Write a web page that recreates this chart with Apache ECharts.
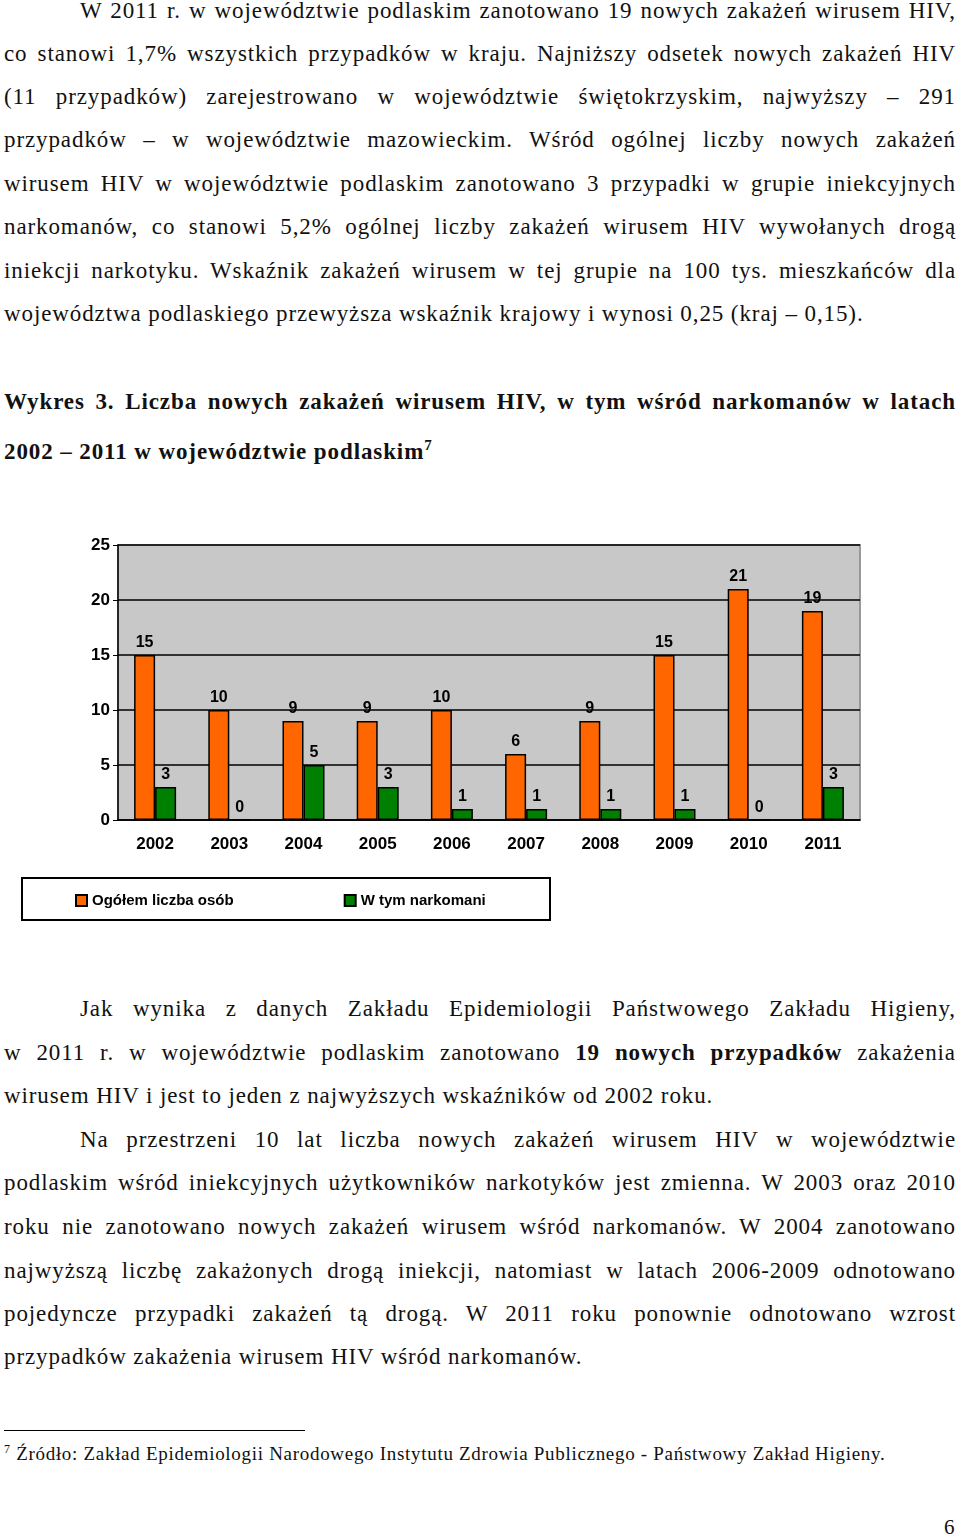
<!DOCTYPE html>
<html><head><meta charset="utf-8">
<script src="https://cdn.jsdelivr.net/npm/echarts@6/dist/echarts.min.js"></script>
<style>
body{margin:0;background:#fff;}
#page{position:relative;width:960px;height:1537px;font-family:"Liberation Serif","Times New Roman",serif;font-size:23px;letter-spacing:0.9px;color:#111;}
.ln{position:absolute;left:4px;width:952px;line-height:26px;white-space:nowrap;}
.j{text-align:justify;text-align-last:justify;white-space:normal;}
.b{font-weight:bold;}
#chart{position:absolute;left:0;top:520px;width:960px;height:420px;letter-spacing:0;}
</style></head>
<body><div id="page"><div id="chart"></div></div>
<script>
// page text, line by line: [y centre, indent, justified, bold, html]
var textLines = [
 [12,76,1,0,'W 2011 r. w województwie podlaskim zanotowano 19 nowych zakażeń wirusem HIV,'],
 [55,0,1,0,'co stanowi 1,7% wszystkich przypadków w kraju. Najniższy odsetek nowych zakażeń HIV'],
 [98,0,1,0,'(11 przypadków) zarejestrowano w województwie świętokrzyskim, najwyższy – 291'],
 [141,0,1,0,'przypadków – w województwie mazowieckim. Wśród ogólnej liczby nowych zakażeń'],
 [185,0,1,0,'wirusem HIV w województwie podlaskim zanotowano 3 przypadki w grupie iniekcyjnych'],
 [228,0,1,0,'narkomanów, co stanowi 5,2% ogólnej liczby zakażeń wirusem HIV wywołanych drogą'],
 [272,0,1,0,'iniekcji narkotyku. Wskaźnik zakażeń wirusem w tej grupie na 100 tys. mieszkańców dla'],
 [315,0,0,0,'województwa podlaskiego przewyższa wskaźnik krajowy i wynosi 0,25 (kraj – 0,15).'],
 [403,0,1,1,'Wykres 3. Liczba nowych zakażeń wirusem HIV, w tym wśród narkomanów w latach'],
 [446,0,0,1,'2002 – 2011 w województwie podlaskim<sup style="font-size:15px">7</sup>'],
 [1010,76,1,0,'Jak wynika z danych Zakładu Epidemiologii Państwowego Zakładu Higieny,'],
 [1054,0,1,0,'w 2011 r. w województwie podlaskim zanotowano <b>19 nowych przypadków</b> zakażenia'],
 [1097,0,0,0,'wirusem HIV i jest to jeden z najwyższych wskaźników od 2002 roku.'],
 [1141,76,1,0,'Na przestrzeni 10 lat liczba nowych zakażeń wirusem HIV w województwie'],
 [1184,0,1,0,'podlaskim wśród iniekcyjnych użytkowników narkotyków jest zmienna. W 2003 oraz 2010'],
 [1228,0,1,0,'roku nie zanotowano nowych zakażeń wirusem wśród narkomanów. W 2004 zanotowano'],
 [1272,0,1,0,'najwyższą liczbę zakażonych drogą iniekcji, natomiast w latach 2006-2009 odnotowano'],
 [1315,0,1,0,'pojedyncze przypadki zakażeń tą drogą. W 2011 roku ponownie odnotowano wzrost'],
 [1358,0,0,0,'przypadków zakażenia wirusem HIV wśród narkomanów.']
];
var years = ['2002','2003','2004','2005','2006','2007','2008','2009','2010','2011'];
var ogolem = [15,10,9,9,10,6,9,15,21,19];
var narkomani = [3,0,5,3,1,1,1,1,0,3];
var yTicks = [0,5,10,15,20,25];

var page = document.getElementById('page');
textLines.forEach(function(l){
	var d = document.createElement('div');
	d.className = 'ln' + (l[2] ? ' j' : '') + (l[3] ? ' b' : '');
	d.style.top = (l[0]-14) + 'px';
	d.style.left = (4+l[1]) + 'px';
	d.style.width = (952-l[1]) + 'px';
	d.innerHTML = l[4];
	page.appendChild(d);
});
var extra = '<div style="position:absolute;left:4px;top:1430px;width:301px;border-top:1px solid #000"></div>'+
	'<div style="position:absolute;left:4px;top:1442px;font-size:19px;letter-spacing:0.7px;white-space:nowrap"><sup style="font-size:12px">7</sup> Źródło: Zakład Epidemiologii Narodowego Instytutu Zdrowia Publicznego - Państwowy Zakład Higieny.</div>'+
	'<div style="position:absolute;left:944px;top:1515px;font-size:21px">6</div>';
page.insertAdjacentHTML('beforeend', extra);

var lbl = {show:true,position:'top',distance:4,color:'#000',fontFamily:'Liberation Sans',fontWeight:'bold',fontSize:16};
var chart = echarts.init(document.getElementById('chart'));
chart.setOption({
	animation:false,
	grid:{left:118,right:100,top:25,bottom:120,show:true,backgroundColor:'#c8c8c8',borderColor:'#999',borderWidth:2},
	legend:{left:70,top:368,itemGap:110,itemWidth:11,itemHeight:11,
		textStyle:{fontFamily:'Liberation Sans',fontWeight:'bold',fontSize:15,color:'#000'},
		data:[{name:'Ogółem liczba osób',icon:'rect'},{name:'W tym narkomani',icon:'rect'}]},
	graphic:[{type:'rect',shape:{x:22,y:358,width:528,height:42},style:{fill:'none',stroke:'#000',lineWidth:2}}],
	xAxis:{type:'category',data:years,
		axisLine:{lineStyle:{color:'#000',width:1.5}},axisTick:{lineStyle:{color:'#000'}},
		axisLabel:{color:'#000',fontFamily:'Liberation Sans',fontWeight:'bold',fontSize:17,margin:16}},
	yAxis:{type:'value',min:0,max:25,interval:5,
		axisLine:{show:true,lineStyle:{color:'#000',width:1.5}},axisTick:{show:true,lineStyle:{color:'#000'}},
		splitLine:{lineStyle:{color:'#000',width:1.5}},
		axisLabel:{color:'#000',fontFamily:'Liberation Sans',fontWeight:'bold',fontSize:17,margin:8,
			formatter:function(v){return yTicks.indexOf(v)>=0?v:'';}}},
	series:[
		{name:'Ogółem liczba osób',type:'bar',data:ogolem,barWidth:21,barGap:'0%',
			itemStyle:{color:'#ff6600',borderColor:'#000',borderWidth:1.5},label:lbl},
		{name:'W tym narkomani',type:'bar',data:narkomani,barWidth:21,
			itemStyle:{color:'#008000',borderColor:'#000',borderWidth:1.5},label:lbl}
	]
});
</script></body></html>
